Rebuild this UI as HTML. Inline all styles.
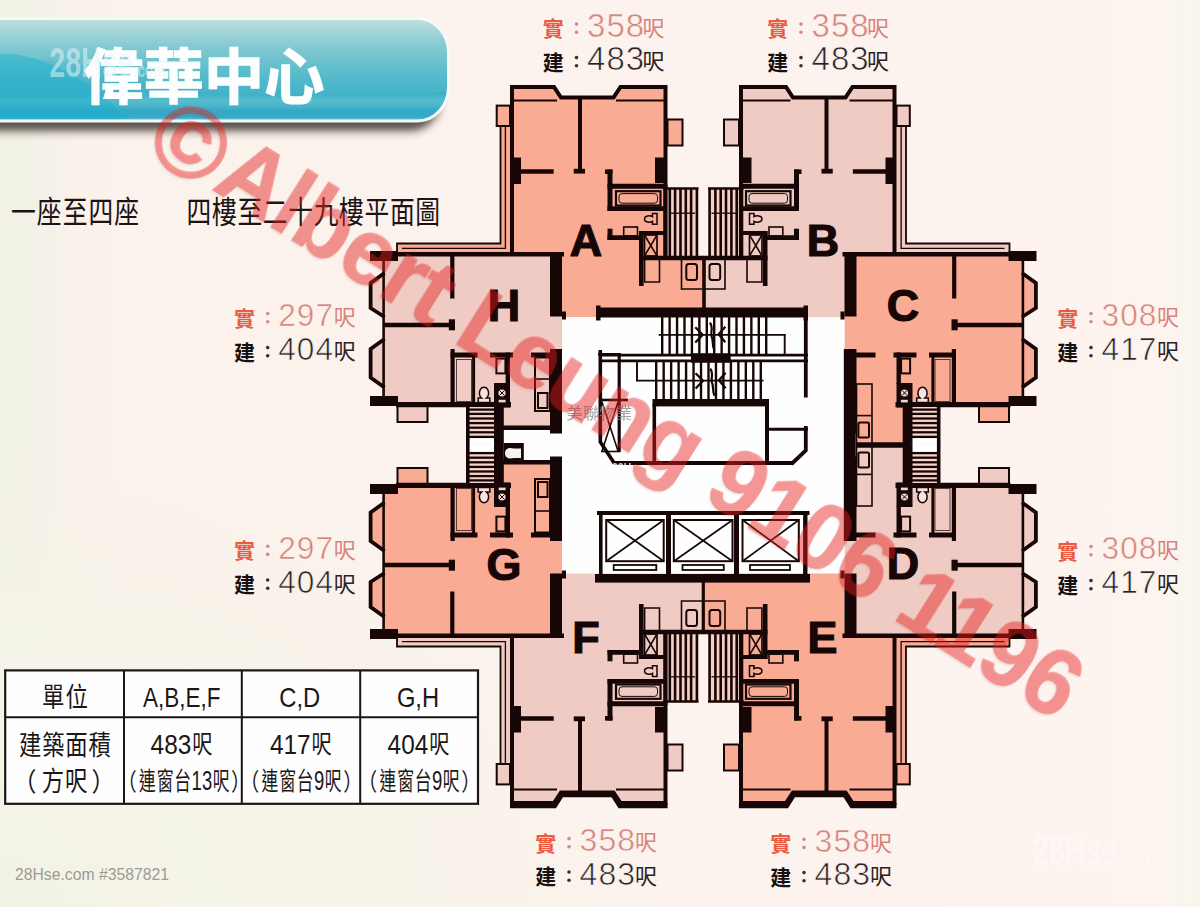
<!DOCTYPE html>
<html lang="zh-Hant"><head><meta charset="utf-8"><title>偉華中心 平面圖</title>
<style>
html,body{margin:0;padding:0;background:#fbf2ec;}
body{width:1200px;height:907px;overflow:hidden;font-family:"Liberation Sans",sans-serif;}
svg{display:block;filter:blur(0.55px)}
.n{font-family:"Liberation Sans",sans-serif;}
.c{font-family:"Liberation Sans","Noto Sans CJK TC",sans-serif;}
</style></head><body>
<svg width="1200" height="907" viewBox="0 0 1200 907" font-family="Liberation Sans, sans-serif">
<defs>
<linearGradient id="bgl" x1="0" x2="1" y1="0" y2="0"><stop offset="0" stop-color="#f1f1e5"/><stop offset="0.035" stop-color="#f3f1e8"/><stop offset="0.065" stop-color="#faf1ea"/><stop offset="0.1" stop-color="#fbf2ec"/><stop offset="0.965" stop-color="#fdf4f0"/><stop offset="0.985" stop-color="#f9f6ee"/><stop offset="1" stop-color="#f8f6ec"/></linearGradient>
<radialGradient id="bgc" cx="0" cy="1" r="0.55"><stop offset="0" stop-color="#f3f3e5"/><stop offset="0.5" stop-color="#f5f4e8" stop-opacity="0.9"/><stop offset="1" stop-color="#f7f2e8" stop-opacity="0"/></radialGradient>
<linearGradient id="ban" x1="0" x2="0" y1="0" y2="1"><stop offset="0" stop-color="#bfe0df"/><stop offset="0.14" stop-color="#a0d3d6"/><stop offset="0.3" stop-color="#7ec8d1"/><stop offset="0.48" stop-color="#62bfcc"/><stop offset="0.62" stop-color="#4fb7ca"/><stop offset="0.74" stop-color="#45b3c9"/><stop offset="0.8" stop-color="#5ebfce"/><stop offset="0.85" stop-color="#4fb8cb"/><stop offset="0.9" stop-color="#37a9c6"/><stop offset="0.96" stop-color="#38aac7"/><stop offset="1" stop-color="#7fccd9"/></linearGradient>
<linearGradient id="banr" x1="0" x2="1" y1="0" y2="0"><stop offset="0" stop-color="#fff" stop-opacity="0"/><stop offset="0.55" stop-color="#fff" stop-opacity="0"/><stop offset="1" stop-color="#fff" stop-opacity="0.18"/></linearGradient>
<linearGradient id="sh" x1="0" x2="0" y1="0" y2="1"><stop offset="0" stop-color="#5a4a44" stop-opacity="0.5"/><stop offset="1" stop-color="#5a4a44" stop-opacity="0"/></linearGradient>
<filter id="blur2" x="-10%" y="-40%" width="120%" height="200%"><feGaussianBlur stdDeviation="4.5"/></filter>
<clipPath id="bclip"><rect x="-40" y="20" width="487" height="99.5" rx="30" ry="33"/></clipPath>
<filter id="blur1"><feGaussianBlur stdDeviation="0.6"/></filter>
<path id="fA" d="M667,119.5H682.5V145.5H667Z M512,87H554L561,97.5H613.5L620.5,87H665.5V258H703.5V317H562V254H512Z M496.7,105.6H512V254H397V243.5H500.5V126H496.7Z"/>
<path id="fH" d="M384,254H562V430H503V405H384Z M384,273L370.6,283V308L384,317Z M384,339L370.6,349V377.5L384,387.5Z M397.5,405H427.5V422H397.5Z"/>
<path id="fC" d="M384,254H562V445.5H503V405H384Z M384,273L370.6,283V308L384,317Z M384,339L370.6,349V377.5L384,387.5Z M397.5,405H427.5V422H397.5Z"/>
<g id="wA"><rect x="496.7" y="105.6" width="13.3" height="20.4" stroke-width="2" fill="none"/><rect x="667.5" y="119.5" width="15" height="26" stroke-width="2" fill="none"/><path d="M500.5,126V243.5H397V253" stroke-width="1.8" fill="none" /><path d="M505.4,126V248.3H402" stroke-width="1.3" fill="none" /><path d="M512,256V87H554L561,97.5H613.5L620.5,87H665.5V189" stroke-width="4" fill="none" stroke-linejoin="miter"/><path d="M513,100.5L557,100.5" stroke-width="2"/><path d="M616,100.5L665,100.5" stroke-width="2"/><path d="M580,97L580,171" stroke-width="4"/><path d="M573.75,171.2L585,171.2" stroke-width="4.8"/><rect x="512.5" y="157.5" width="8.5" height="26.5" fill="#170606" stroke="none"/><path d="M520,171.5L553.7,171.5" stroke-width="4.4"/><rect x="655" y="157.5" width="11" height="25.5" fill="#170606" stroke="none"/><path d="M605,171.7L612.5,171.7" stroke-width="4.6"/><path d="M610,169.5L610,211" stroke-width="5"/><path d="M607.5,186.2L667,186.2" stroke-width="5"/><rect x="616" y="191.2" width="44.5" height="14.3" stroke-width="2.2" fill="none"/><rect x="619" y="193.6" width="38.5" height="9.6" stroke-width="1" fill="none" rx="3"/><path d="M607.5,208.6L667,208.6" stroke-width="4.6"/><path d="M657,213.5h-4.5v3.2c-2.5,-1.6 -8,-1 -8,2.3c0,3.4 5.5,4 8,2.4v2.8h4.5z" stroke-width="1.5" fill="none" /><path d="M610,228.7L610,240" stroke-width="5"/><path d="M607.5,237.6L641,237.6" stroke-width="4.8"/><rect x="623.7" y="227" width="13.8" height="9" stroke-width="1.6" fill="none"/><path d="M641.3,231L641.3,286" stroke-width="4.6"/><path d="M639,233L665,233" stroke-width="4"/><rect x="644.5" y="235" width="12.5" height="21" stroke-width="1.7" fill="none"/><path d="M644.5,235L657,256" stroke-width="1.5"/><path d="M657,235L644.5,256" stroke-width="1.5"/><rect x="667.5" y="187.5" width="31" height="68.5" fill="#f6cfc5" stroke="none"/><path d="M665.4,185L665.4,259" stroke-width="4.4"/><path d="M663,188.5L698.5,188.5" stroke-width="2.4"/><path d="M669.8,188L669.8,256" stroke-width="2.6"/><path d="M675.1,188L675.1,256" stroke-width="2.6"/><path d="M680.5,188L680.5,256" stroke-width="2.6"/><path d="M685.8,188L685.8,256" stroke-width="2.6"/><path d="M691.1,188L691.1,256" stroke-width="2.6"/><path d="M696.9,188L696.9,256" stroke-width="2.6"/><path d="M669,213.2L695,213.2" stroke-width="1.3"/><path d="M639,258L703.5,258" stroke-width="4.6"/><path d="M644.6,260V282H659.5V260" stroke-width="1.6" fill="none" /><path d="M681.5,260V289H702" stroke-width="1.6" fill="none" /><rect x="686.3" y="264" width="10.7" height="16" stroke-width="2" fill="none" rx="2.5"/></g>
<g id="wH"><rect x="397.5" y="406" width="30" height="16" stroke-width="2" fill="none"/><rect x="370" y="251" width="28" height="10" fill="#170606" stroke="none"/><rect x="370" y="396" width="28" height="10" fill="#170606" stroke="none"/><path d="M396,254.3L564,254.3" stroke-width="4.6"/><path d="M383.6,258L383.6,400" stroke-width="2.6"/><path d="M384.5,273L370.6,283V308L384.5,317" stroke-width="3.8" fill="none" /><path d="M384.5,339L370.6,349V377.5L384.5,387.5" stroke-width="3.8" fill="none" /><path d="M396,404.7L511,404.7" stroke-width="5.2"/><path d="M452.3,254L452.3,298.5" stroke-width="4.2"/><path d="M384,325L452,325" stroke-width="4.6"/><rect x="448.8" y="319.3" width="6.2" height="11" fill="#170606" stroke="none"/><path d="M452.6,349L452.6,405" stroke-width="4.2"/><path d="M450.5,355L477.5,355" stroke-width="5"/><path d="M490,355L513,355" stroke-width="5"/><path d="M531,355L562,355" stroke-width="5"/><path d="M473.6,357L473.6,403" stroke-width="3"/><rect x="456.5" y="359.5" width="15" height="42" stroke-width="0.8" fill="none" stroke="#3a1a1a"/><path d="M507.8,352.5L507.8,384" stroke-width="4.4"/><rect x="496.4" y="358.6" width="9" height="14.8" stroke-width="2" fill="none"/><rect x="494" y="383" width="16" height="24.5" fill="#170606" stroke="none"/><circle cx="502" cy="393" r="3.6" fill="#f3d6cf" stroke="none"/><path d="M499.6,390.6L504.4,395.4" stroke-width="1" stroke="#170606"/><path d="M504.4,390.6L499.6,395.4" stroke-width="1" stroke="#170606"/><rect x="498.7" y="399.8" width="6.9" height="2.6" fill="#f3d6cf" stroke="none"/><path d="M478.2,402.5v-4.6h3.2c-2.6,-2 -2.4,-6.2 -1,-8.6c1.6,-2.8 5.6,-2.8 7.2,0c1.4,2.4 1.6,6.6 -1,8.6h3.2v4.6z" stroke-width="1.5" fill="#f8e4de" /><rect x="550" y="252" width="12" height="64.5" fill="#170606" stroke="none"/><rect x="562" y="311.5" width="4" height="8" fill="#170606" stroke="none"/><rect x="550" y="349" width="12" height="84.5" fill="#170606" stroke="none"/></g>
<g id="kH"><path d="M503,427.8L552,427.8" stroke-width="4.5"/><rect x="535" y="357.5" width="15" height="53.5" stroke-width="2" fill="none"/><path d="M535,379L550,379" stroke-width="1.6"/><rect x="538" y="393" width="9.5" height="15" stroke-width="2" fill="none"/></g>
<g id="sH"><rect x="469.5" y="407" width="25.5" height="38.2" fill="#f6d3cb" stroke="none"/><rect x="469.5" y="437.8" width="25.5" height="7.4" fill="#fff" stroke="none"/><path d="M467.8,407L467.8,445.2" stroke-width="3.6"/><rect x="494" y="407" width="9.8" height="38.2" fill="#170606" stroke="none"/><path d="M469,409.6L495,409.6" stroke-width="2.3"/><path d="M469,413.9L495,413.9" stroke-width="2.3"/><path d="M469,418.5L495,418.5" stroke-width="2.3"/><path d="M469,423.1L495,423.1" stroke-width="2.3"/><path d="M469,427.7L495,427.7" stroke-width="2.3"/><path d="M469,432.3L495,432.3" stroke-width="2.3"/><path d="M469,436.9L495,436.9" stroke-width="2.3"/></g>
</defs>
<rect width="1200" height="907" fill="url(#bgl)"/>
<rect width="1200" height="907" fill="url(#bgc)"/>

<g>
<rect x="-40" y="31" width="480" height="100" rx="30" fill="#33261f" opacity="0.8" filter="url(#blur2)"/>
<rect x="-40" y="18.5" width="488.5" height="102.5" rx="31" ry="34" fill="url(#ban)" stroke="#f2fafa" stroke-width="3"/>
<path d="M-10,60C40,52 90,68 150,82S300,96 446,92V119H-10Z" fill="#2aa4c4" opacity="0.12" clip-path="url(#bclip)"/>
<path d="M-10,54C10,52 30,56 50,64S90,84 130,119H-10Z" fill="#15aed0" opacity="0.4" clip-path="url(#bclip)"/>
</g>
<text class="c" x="83.4" y="99.2" font-size="60" font-weight="bold" letter-spacing="0.3" fill="#fdfefe" stroke="#fdfefe" stroke-width="1.3">偉華中心</text>
<g stroke="none">
<use href="#fA" fill="#f9ab94"/><use href="#fA" fill="#efcbc4" transform="translate(1406.5,0) scale(-1,1)"/><use href="#fA" fill="#efcbc4" transform="translate(0,890) scale(1,-1)"/><use href="#fA" fill="#f9ab94" transform="translate(1406.5,890) scale(-1,-1)"/>
<use href="#fH" fill="#efcbc4"/><use href="#fC" fill="#f9ab94" transform="translate(1406.5,0) scale(-1,1)"/><use href="#fH" fill="#f9ab94" transform="translate(0,890) scale(1,-1)"/><use href="#fC" fill="#efcbc4" transform="translate(1406.5,890) scale(-1,-1)"/>
<rect x="562" y="317" width="282.5" height="256.5" fill="#fefefe"/>
<rect x="503" y="430" width="60" height="31" fill="#fefefe"/>
</g>
<g stroke="#170606" fill="none" stroke-linecap="butt">
<use href="#wA"/><use href="#wA" transform="translate(1406.5,0) scale(-1,1)"/><use href="#wA" transform="translate(0,890) scale(1,-1)"/><use href="#wA" transform="translate(1406.5,890) scale(-1,-1)"/>
<use href="#wH"/><use href="#wH" transform="translate(1406.5,0) scale(-1,1)"/><use href="#wH" transform="translate(0,890) scale(1,-1)"/><use href="#wH" transform="translate(1406.5,890) scale(-1,-1)"/>
<use href="#kH"/><use href="#kH" transform="translate(0,890) scale(1,-1)"/>
<use href="#sH"/><use href="#sH" transform="translate(1406.5,0) scale(-1,1)"/><use href="#sH" transform="translate(0,890) scale(1,-1)"/><use href="#sH" transform="translate(1406.5,890) scale(-1,-1)"/>
<path d="M510,805.6H554.5L561.5,794.6H613L620,805.6H667.6" stroke-width="5.4" fill="none" />
<g transform="translate(1406.5,0) scale(-1,1)"><path d="M510,805.6H554.5L561.5,794.6H613L620,805.6H667.6" stroke-width="5.4" fill="none" /></g>
<path d="M704,258L704,308" stroke-width="3.6"/>
<path d="M703.3,582L703.3,632" stroke-width="3.2"/>
<path d="M856,445.4L903,445.4" stroke-width="4.8"/><rect x="856.5" y="384" width="15.5" height="60" stroke-width="1.6" fill="none"/><path d="M856.5,415.6L872,415.6" stroke-width="1.6"/><rect x="858.4" y="422.6" width="10.6" height="14.8" stroke-width="2" fill="none" rx="1.5"/>
<g transform="translate(0,890) scale(1,-1)"><path d="M856,445.4L903,445.4" stroke-width="4.8"/><rect x="856.5" y="384" width="15.5" height="60" stroke-width="1.6" fill="none"/><path d="M856.5,415.6L872,415.6" stroke-width="1.6"/><rect x="858.4" y="422.6" width="10.6" height="14.8" stroke-width="2" fill="none" rx="1.5"/></g>
<rect x="843.8" y="349" width="11.8" height="192" fill="#170606" stroke="none"/>
<rect x="503.8" y="443" width="20" height="18" fill="#170606" stroke="none"/>
<path d="M521,448.5h-7l-4,-0.5c-3,0 -5,2.5 -5,5.2c0,2.8 2,5.3 5,5.3l4,-0.5h7z" fill="#f4f4f4" stroke="none"/>
<rect x="597.5" y="307.5" width="209" height="10" fill="#170606" stroke="none"/>
<rect x="596" y="305.5" width="4.5" height="15" fill="#170606" stroke="none"/>
<rect x="803.5" y="305.5" width="4.5" height="15" fill="#170606" stroke="none"/>
<path d="M662.2,317L662.2,354" stroke-width="2.4"/>
<path d="M669.63,317L669.63,354" stroke-width="2.4"/>
<path d="M677.06,317L677.06,354" stroke-width="2.4"/>
<path d="M684.49,317L684.49,354" stroke-width="2.4"/>
<path d="M691.92,317L691.92,354" stroke-width="2.4"/>
<path d="M699.35,317L699.35,354" stroke-width="2.4"/>
<path d="M706.78,317L706.78,354" stroke-width="2.4"/>
<path d="M714.21,317L714.21,354" stroke-width="2.4"/>
<path d="M721.64,317L721.64,354" stroke-width="2.4"/>
<path d="M729.07,317L729.07,354" stroke-width="2.4"/>
<path d="M736.5,317L736.5,354" stroke-width="2.4"/>
<path d="M743.93,317L743.93,354" stroke-width="2.4"/>
<path d="M751.36,317L751.36,354" stroke-width="2.4"/>
<path d="M758.79,317L758.79,354" stroke-width="2.4"/>
<path d="M766.22,317L766.22,354" stroke-width="2.4"/>
<path d="M658.7,334.8L785.5,334.8" stroke-width="1.7"/>
<path d="M784.7,334L784.7,354" stroke-width="1.9"/>
<path d="M600,355.2L808,355.2" stroke-width="2.8"/>
<path d="M600,360.9L808,360.9" stroke-width="2.8"/>
<rect x="691" y="353.3" width="39.7" height="9.4" fill="#170606" stroke="none"/>
<path d="M598,354.2L621,354.2" stroke-width="2.4"/>
<path d="M656.2,362L656.2,400" stroke-width="2.4"/>
<path d="M663.67,362L663.67,400" stroke-width="2.4"/>
<path d="M671.14,362L671.14,400" stroke-width="2.4"/>
<path d="M678.61,362L678.61,400" stroke-width="2.4"/>
<path d="M686.08,362L686.08,400" stroke-width="2.4"/>
<path d="M693.55,362L693.55,400" stroke-width="2.4"/>
<path d="M701.02,362L701.02,400" stroke-width="2.4"/>
<path d="M708.49,362L708.49,400" stroke-width="2.4"/>
<path d="M715.96,362L715.96,400" stroke-width="2.4"/>
<path d="M723.43,362L723.43,400" stroke-width="2.4"/>
<path d="M730.9,362L730.9,400" stroke-width="2.4"/>
<path d="M738.37,362L738.37,400" stroke-width="2.4"/>
<path d="M745.84,362L745.84,400" stroke-width="2.4"/>
<path d="M753.31,362L753.31,400" stroke-width="2.4"/>
<path d="M760.78,362L760.78,400" stroke-width="2.4"/>
<path d="M637,380.7L763.5,380.7" stroke-width="1.7"/>
<path d="M637,361L637,381.5" stroke-width="1.9"/>
<path d="M695.3,327.3L702.7,334.7L695.3,342.5" stroke-width="2.3" fill="none" /><path d="M725.3,326.7L718.7,334.3L725.3,342.3" stroke-width="2.3" fill="none" /><path d="M709.9,322.7C714.2,328.7 709.7,332.7 711.7,336.7S711.7,344.7 714.2,349.7" stroke-width="2.2" fill="none" />
<path d="M695.6,373.3L703,380.7L695.6,388.5" stroke-width="2.3" fill="none" /><path d="M725.6,372.7L719,380.3L725.6,388.3" stroke-width="2.3" fill="none" /><path d="M710.2,368.7C714.5,374.7 710,378.7 712,382.7S712,390.7 714.5,395.7" stroke-width="2.2" fill="none" />
<rect x="652.5" y="399" width="116.5" height="7.4" fill="#170606" stroke="none"/>
<path d="M654.3,404L654.3,464" stroke-width="3.6"/>
<path d="M767,404L767,464" stroke-width="4"/>
<path d="M613,463L793,463" stroke-width="4"/>
<path d="M767,429.3L808,429.3" stroke-width="3"/>
<path d="M805.8,426V450.5L791.5,464" stroke-width="3.8" fill="none" />
<path d="M805.8,317L805.8,397.5" stroke-width="3.8"/>
<path d="M600.3,350V442L614.5,463.5" stroke-width="3.6" fill="none" />
<path d="M619.2,356L619.2,452" stroke-width="3.2"/>
<path d="M600,400L628,400" stroke-width="2.6"/>
<path d="M602,402L618,451" stroke-width="1.6"/>
<path d="M618,402L602,451" stroke-width="1.6"/>
<path d="M601,451.5L620,451.5" stroke-width="1.6"/>
<rect x="595" y="574" width="215" height="8.6" fill="#170606" stroke="none"/>
<path d="M597,513L809.5,513" stroke-width="4"/>
<path d="M600.8,511L600.8,576" stroke-width="3.6"/>
<path d="M805.3,511L805.3,576" stroke-width="4.4"/>
<rect x="666" y="512" width="5" height="64" fill="#170606" stroke="none"/>
<rect x="734" y="512" width="5" height="64" fill="#170606" stroke="none"/>
<rect x="606.2" y="520" width="57.5" height="41.2" stroke-width="2" fill="none"/>
<path d="M606.2,520L663.7,561.2" stroke-width="1.7"/>
<path d="M663.7,520L606.2,561.2" stroke-width="1.7"/>
<rect x="613.7" y="565" width="42.6" height="5" stroke-width="1.8" fill="none"/>
<rect x="673.8" y="520" width="58.7" height="41.2" stroke-width="2" fill="none"/>
<path d="M673.8,520L732.5,561.2" stroke-width="1.7"/>
<path d="M732.5,520L673.8,561.2" stroke-width="1.7"/>
<rect x="682.5" y="565" width="41.3" height="5" stroke-width="1.8" fill="none"/>
<rect x="742.5" y="520" width="56.3" height="41.2" stroke-width="2" fill="none"/>
<path d="M742.5,520L798.8,561.2" stroke-width="1.7"/>
<path d="M798.8,520L742.5,561.2" stroke-width="1.7"/>
<rect x="750" y="565" width="40" height="5" stroke-width="1.8" fill="none"/>
</g>
<text transform="translate(586,255.6) scale(1.02,1)" font-size="44" font-weight="bold" fill="#170606" stroke="#170606" stroke-width="1.2" text-anchor="middle">A</text>
<text transform="translate(823,255.6) scale(1.02,1)" font-size="44" font-weight="bold" fill="#170606" stroke="#170606" stroke-width="1.2" text-anchor="middle">B</text>
<text transform="translate(504,320.6) scale(1.02,1)" font-size="44" font-weight="bold" fill="#170606" stroke="#170606" stroke-width="1.2" text-anchor="middle">H</text>
<text transform="translate(903,321.1) scale(1.02,1)" font-size="44" font-weight="bold" fill="#170606" stroke="#170606" stroke-width="1.2" text-anchor="middle">C</text>
<text transform="translate(504,579.6) scale(1.02,1)" font-size="44" font-weight="bold" fill="#170606" stroke="#170606" stroke-width="1.2" text-anchor="middle">G</text>
<text transform="translate(903,579.2) scale(1.02,1)" font-size="44" font-weight="bold" fill="#170606" stroke="#170606" stroke-width="1.2" text-anchor="middle">D</text>
<text transform="translate(586,653.1) scale(1.02,1)" font-size="44" font-weight="bold" fill="#170606" stroke="#170606" stroke-width="1.2" text-anchor="middle">F</text>
<text transform="translate(822.5,653.1) scale(1.02,1)" font-size="44" font-weight="bold" fill="#170606" stroke="#170606" stroke-width="1.2" text-anchor="middle">E</text>
<text class="c" x="542.7" y="36.1" font-size="21" font-weight="bold" fill="#ea5b42">實</text><text class="c" x="542.7" y="69.6" font-size="21" font-weight="bold" fill="#161010">建</text><g fill="#c98f8b"><circle cx="576.5" cy="24.1" r="1.8"/><circle cx="576.5" cy="32.3" r="1.8"/></g><g fill="#3a3030"><circle cx="576.5" cy="57.6" r="1.8"/><circle cx="576.5" cy="65.8" r="1.8"/></g><text x="587.1" y="36.7" font-size="33" fill="#d8837b" letter-spacing="1" stroke="#fbf2ec" stroke-width="0.55">358</text><text x="587.1" y="70.2" font-size="33" fill="#2a2222" letter-spacing="1" stroke="#fbf2ec" stroke-width="0.7">483</text><text class="c" x="642.5" y="35.9" font-size="22" fill="#d8837b">呎</text><text class="c" x="642.5" y="69.4" font-size="22" fill="#2a2222">呎</text>
<text class="c" x="767.2" y="36.1" font-size="21" font-weight="bold" fill="#ea5b42">實</text><text class="c" x="767.2" y="69.6" font-size="21" font-weight="bold" fill="#161010">建</text><g fill="#c98f8b"><circle cx="801" cy="24.1" r="1.8"/><circle cx="801" cy="32.3" r="1.8"/></g><g fill="#3a3030"><circle cx="801" cy="57.6" r="1.8"/><circle cx="801" cy="65.8" r="1.8"/></g><text x="811.6" y="36.7" font-size="33" fill="#d8837b" letter-spacing="1" stroke="#fbf2ec" stroke-width="0.55">358</text><text x="811.6" y="70.2" font-size="33" fill="#2a2222" letter-spacing="1" stroke="#fbf2ec" stroke-width="0.7">483</text><text class="c" x="867" y="35.9" font-size="22" fill="#d8837b">呎</text><text class="c" x="867" y="69.4" font-size="22" fill="#2a2222">呎</text>
<text class="c" x="233.9" y="325.6" font-size="21" font-weight="bold" fill="#ea5b42">實</text><text class="c" x="233.9" y="359.6" font-size="21" font-weight="bold" fill="#161010">建</text><g fill="#c98f8b"><circle cx="267.7" cy="313.6" r="1.8"/><circle cx="267.7" cy="321.8" r="1.8"/></g><g fill="#3a3030"><circle cx="267.7" cy="347.6" r="1.8"/><circle cx="267.7" cy="355.8" r="1.8"/></g><text x="278.3" y="326.2" font-size="31.6" fill="#d8837b" letter-spacing="1" stroke="#fbf2ec" stroke-width="0.55">297</text><text x="278.3" y="360.2" font-size="31.6" fill="#2a2222" letter-spacing="1" stroke="#fbf2ec" stroke-width="0.7">404</text><text class="c" x="333.7" y="325.4" font-size="22" fill="#d8837b">呎</text><text class="c" x="333.7" y="359.4" font-size="22" fill="#2a2222">呎</text>
<text class="c" x="233.9" y="558.2" font-size="21" font-weight="bold" fill="#ea5b42">實</text><text class="c" x="233.9" y="592" font-size="21" font-weight="bold" fill="#161010">建</text><g fill="#c98f8b"><circle cx="267.7" cy="546.2" r="1.8"/><circle cx="267.7" cy="554.4" r="1.8"/></g><g fill="#3a3030"><circle cx="267.7" cy="580" r="1.8"/><circle cx="267.7" cy="588.2" r="1.8"/></g><text x="278.3" y="558.8" font-size="31.6" fill="#d8837b" letter-spacing="1" stroke="#fbf2ec" stroke-width="0.55">297</text><text x="278.3" y="592.6" font-size="31.6" fill="#2a2222" letter-spacing="1" stroke="#fbf2ec" stroke-width="0.7">404</text><text class="c" x="333.7" y="558" font-size="22" fill="#d8837b">呎</text><text class="c" x="333.7" y="591.8" font-size="22" fill="#2a2222">呎</text>
<text class="c" x="1057.2" y="325.6" font-size="21" font-weight="bold" fill="#ea5b42">實</text><text class="c" x="1057.2" y="359.6" font-size="21" font-weight="bold" fill="#161010">建</text><g fill="#c98f8b"><circle cx="1091" cy="313.6" r="1.8"/><circle cx="1091" cy="321.8" r="1.8"/></g><g fill="#3a3030"><circle cx="1091" cy="347.6" r="1.8"/><circle cx="1091" cy="355.8" r="1.8"/></g><text x="1101.6" y="326.2" font-size="31.6" fill="#d8837b" letter-spacing="1" stroke="#fbf2ec" stroke-width="0.55">308</text><text x="1101.6" y="360.2" font-size="31.6" fill="#2a2222" letter-spacing="1" stroke="#fbf2ec" stroke-width="0.7">417</text><text class="c" x="1157" y="325.4" font-size="22" fill="#d8837b">呎</text><text class="c" x="1157" y="359.4" font-size="22" fill="#2a2222">呎</text>
<text class="c" x="1057.2" y="558.6" font-size="21" font-weight="bold" fill="#ea5b42">實</text><text class="c" x="1057.2" y="592.6" font-size="21" font-weight="bold" fill="#161010">建</text><g fill="#c98f8b"><circle cx="1091" cy="546.6" r="1.8"/><circle cx="1091" cy="554.8" r="1.8"/></g><g fill="#3a3030"><circle cx="1091" cy="580.6" r="1.8"/><circle cx="1091" cy="588.8" r="1.8"/></g><text x="1101.6" y="559.2" font-size="31.6" fill="#d8837b" letter-spacing="1" stroke="#fbf2ec" stroke-width="0.55">308</text><text x="1101.6" y="593.2" font-size="31.6" fill="#2a2222" letter-spacing="1" stroke="#fbf2ec" stroke-width="0.7">417</text><text class="c" x="1157" y="558.4" font-size="22" fill="#d8837b">呎</text><text class="c" x="1157" y="592.4" font-size="22" fill="#2a2222">呎</text>
<text class="c" x="535.2" y="850.6" font-size="21" font-weight="bold" fill="#ea5b42">實</text><text class="c" x="535.2" y="884" font-size="21" font-weight="bold" fill="#161010">建</text><g fill="#c98f8b"><circle cx="569" cy="838.6" r="1.8"/><circle cx="569" cy="846.8" r="1.8"/></g><g fill="#3a3030"><circle cx="569" cy="872" r="1.8"/><circle cx="569" cy="880.2" r="1.8"/></g><text x="579.6" y="851.2" font-size="32" fill="#d8837b" letter-spacing="1" stroke="#fbf2ec" stroke-width="0.55">358</text><text x="579.6" y="884.6" font-size="32" fill="#2a2222" letter-spacing="1" stroke="#fbf2ec" stroke-width="0.7">483</text><text class="c" x="635" y="850.4" font-size="22" fill="#d8837b">呎</text><text class="c" x="635" y="883.8" font-size="22" fill="#2a2222">呎</text>
<text class="c" x="770.2" y="851.2" font-size="21" font-weight="bold" fill="#ea5b42">實</text><text class="c" x="770.2" y="884.6" font-size="21" font-weight="bold" fill="#161010">建</text><g fill="#c98f8b"><circle cx="804" cy="839.2" r="1.8"/><circle cx="804" cy="847.4" r="1.8"/></g><g fill="#3a3030"><circle cx="804" cy="872.6" r="1.8"/><circle cx="804" cy="880.8" r="1.8"/></g><text x="814.6" y="851.8" font-size="32" fill="#d8837b" letter-spacing="1" stroke="#fbf2ec" stroke-width="0.55">358</text><text x="814.6" y="885.2" font-size="32" fill="#2a2222" letter-spacing="1" stroke="#fbf2ec" stroke-width="0.7">483</text><text class="c" x="870" y="851" font-size="22" fill="#d8837b">呎</text><text class="c" x="870" y="884.4" font-size="22" fill="#2a2222">呎</text>
<text class="c" transform="translate(11,223.2) scale(0.8,1)" font-size="31" letter-spacing="1.31" fill="#1c1414">一座至四座</text>
<text class="c" transform="translate(186.6,223.2) scale(0.8,1)" font-size="31" letter-spacing="0.78" fill="#1c1414">四樓至二十九樓平面圖</text>
<g>
<rect x="5.2" y="670.4" width="472.8" height="133.4" fill="#fefefe" stroke="#1b1515" stroke-width="2.2"/>
<path d="M5.2,717.3H478M124,670.4V803.8M241.8,670.4V803.8M360.2,670.4V803.8" stroke="#1b1515" stroke-width="2" fill="none"/>
<text class="c" transform="translate(42,707.2) scale(0.83,1)" font-size="27" letter-spacing="1.43" fill="#1d1717">單位</text>
<text transform="translate(181.8,707) scale(0.815,1)" font-size="27.6" fill="#1d1717" text-anchor="middle" font-weight="normal">A,B,E,F</text>
<text transform="translate(299.8,707) scale(0.86,1)" font-size="27.6" fill="#1d1717" text-anchor="middle" font-weight="normal">C,D</text>
<text transform="translate(418,707) scale(0.86,1)" font-size="27.6" fill="#1d1717" text-anchor="middle" font-weight="normal">G,H</text>
<text class="c" transform="translate(19,755) scale(0.83,1)" font-size="27" letter-spacing="0.95" fill="#1d1717">建築面積</text>
<text class="c" transform="translate(13,790.8) scale(0.9,1)" font-size="26" fill="#1d1717">（</text>
<text class="c" transform="translate(41.8,790.8) scale(0.83,1)" font-size="27" letter-spacing="0.95" fill="#1d1717">方呎</text>
<text class="c" transform="translate(91.6,790.8) scale(0.9,1)" font-size="26" fill="#1d1717">）</text>
<text transform="translate(150.6,754) scale(0.89,1)" font-size="27.4" fill="#1d1717" text-anchor="start" font-weight="normal">483</text><text class="c" transform="translate(192.2,753.4) scale(0.82,1)" font-size="24.6" fill="#1d1717">呎</text>
<text transform="translate(270,754) scale(0.89,1)" font-size="27.4" fill="#1d1717" text-anchor="start" font-weight="normal">417</text><text class="c" transform="translate(311.6,753.4) scale(0.82,1)" font-size="24.6" fill="#1d1717">呎</text>
<text transform="translate(387.6,754) scale(0.89,1)" font-size="27.4" fill="#1d1717" text-anchor="start" font-weight="normal">404</text><text class="c" transform="translate(429.2,753.4) scale(0.82,1)" font-size="24.6" fill="#1d1717">呎</text>
<text class="c" transform="translate(117.5,790) scale(0.8,1)" font-size="24" fill="#1d1717">（</text><text class="c" transform="translate(139,789.6) scale(0.66,1)" font-size="25.4" letter-spacing="1.42" fill="#1d1717">連窗台</text><text transform="translate(191.6,789.8) scale(0.66,1)" font-size="28" fill="#1d1717" text-anchor="start" font-weight="normal">13</text><text class="c" transform="translate(212.65,789.6) scale(0.66,1)" font-size="25.4" fill="#1d1717">呎</text><text class="c" transform="translate(230.91,790) scale(0.8,1)" font-size="24" fill="#1d1717">）</text>
<text class="c" transform="translate(240,790) scale(0.8,1)" font-size="24" fill="#1d1717">（</text><text class="c" transform="translate(261.5,789.6) scale(0.66,1)" font-size="25.4" letter-spacing="1.42" fill="#1d1717">連窗台</text><text transform="translate(314.1,789.8) scale(0.66,1)" font-size="28" fill="#1d1717" text-anchor="start" font-weight="normal">9</text><text class="c" transform="translate(324.87,789.6) scale(0.66,1)" font-size="25.4" fill="#1d1717">呎</text><text class="c" transform="translate(343.14,790) scale(0.8,1)" font-size="24" fill="#1d1717">）</text>
<text class="c" transform="translate(358,790) scale(0.8,1)" font-size="24" fill="#1d1717">（</text><text class="c" transform="translate(379.5,789.6) scale(0.66,1)" font-size="25.4" letter-spacing="1.42" fill="#1d1717">連窗台</text><text transform="translate(432.1,789.8) scale(0.66,1)" font-size="28" fill="#1d1717" text-anchor="start" font-weight="normal">9</text><text class="c" transform="translate(442.87,789.6) scale(0.66,1)" font-size="25.4" fill="#1d1717">呎</text><text class="c" transform="translate(461.14,790) scale(0.8,1)" font-size="24" fill="#1d1717">）</text>
</g>
<text x="15" y="879.6" font-size="16.6" fill="#9a9a96" textLength="154" lengthAdjust="spacingAndGlyphs">28Hse.com #3587821</text>
<g transform="translate(49.5,76.6) scale(0.68,1)" fill="#e6f6fa" opacity="0.5" font-weight="bold"><text x="0" y="0" font-size="42">28Hse<tspan font-size="20.16">.com</tspan></text></g>
<g transform="translate(612,472.5) scale(0.68,1)" fill="#fff" opacity="0.8" font-weight="bold"><text x="0" y="0" font-size="15.5">28Hse<tspan font-size="7.44">.com</tspan></text></g>
<g transform="translate(1033,865) scale(0.68,1)" fill="#fff" opacity="0.38" font-weight="bold"><text x="0" y="0" font-size="42">28Hse<tspan font-size="20.16">.com</tspan></text></g>
<text class="c" x="566.5" y="419.4" font-size="16.4" fill="#8a8a8a" opacity="0.8">美聯物業</text>
<g transform="translate(-1.6,1.9)" fill="#6a3030" stroke="#6a3030" stroke-width="1.2" opacity="0.06" aria-hidden="true" font-weight="bold" font-family="Liberation Sans, sans-serif"><text transform="translate(191.7,141.2) rotate(32.2)" x="0" y="36" font-size="100" text-anchor="middle" stroke-width="1.5">©</text><text transform="translate(210.5,189.1) rotate(32.2)" x="0" y="0" font-size="94" textLength="1000" lengthAdjust="spacingAndGlyphs">Albert Leung 9106 1196</text></g>
<g fill="#ee1c1c" stroke="#ee1c1c" stroke-width="1.2" stroke-linejoin="round" opacity="0.43" font-weight="bold" font-family="Liberation Sans, sans-serif"><text transform="translate(191.7,141.2) rotate(32.2)" x="0" y="36" font-size="100" text-anchor="middle" stroke-width="1.5">©</text><text transform="translate(210.5,189.1) rotate(32.2)" x="0" y="0" font-size="94" textLength="1000" lengthAdjust="spacingAndGlyphs">Albert Leung 9106 1196</text></g>
</svg>
</body></html>
